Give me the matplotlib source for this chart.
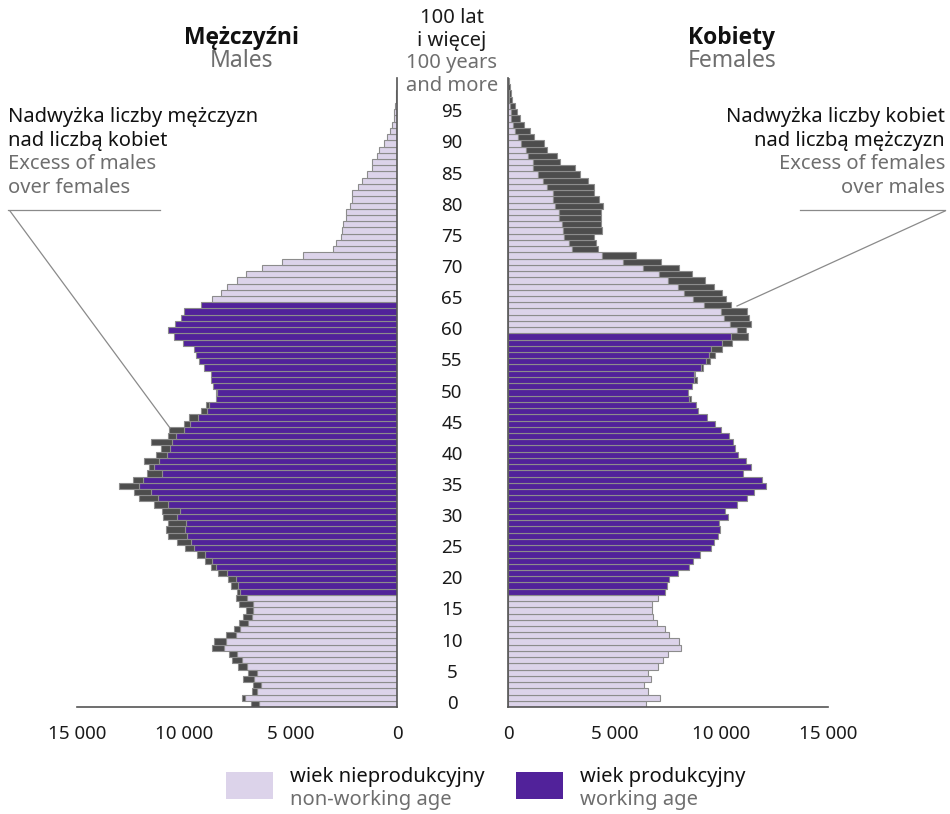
import numpy as np
import matplotlib
matplotlib.use("Agg")
import matplotlib.pyplot as plt
from matplotlib.lines import Line2D
from matplotlib.patches import Rectangle
from matplotlib.transforms import blended_transform_factory

plt.rcParams['font.family'] = ['Noto Sans', 'DejaVu Sans']

# population by single year of age 0..100, in thousands
ages = np.arange(0, 101)
males = [
    6.86, 7.28, 6.78, 6.77, 7.23, 7.00, 7.44, 7.75, 7.88, 8.67,
    8.58, 8.02, 7.63, 7.39, 7.20, 7.07, 7.41, 7.53, 7.50, 7.80,
    7.91, 8.40, 8.72, 8.98, 9.37, 9.95, 10.29, 10.73, 10.82, 10.72,
    10.95, 11.00, 11.40, 12.10, 12.35, 13.04, 12.38, 11.74, 11.63, 11.87,
    11.31, 11.07, 11.53, 10.72, 10.70, 9.98, 9.73, 9.17, 8.95, 8.50,
    8.47, 8.64, 8.72, 8.73, 9.06, 9.29, 9.43, 9.50, 10.04, 10.46,
    10.72, 10.42, 10.12, 9.97, 9.19, 8.69, 8.24, 7.98, 7.52, 7.07,
    6.35, 5.38, 4.40, 2.99, 2.84, 2.63, 2.56, 2.51, 2.37, 2.37,
    2.20, 2.13, 2.13, 1.82, 1.64, 1.40, 1.17, 1.17, 0.94, 0.84,
    0.62, 0.47, 0.34, 0.25, 0.15, 0.12, 0.09, 0.06, 0.03, 0.02,
    0.02]
females = [
    6.48, 7.13, 6.57, 6.36, 6.69, 6.55, 7.02, 7.28, 7.52, 8.09,
    8.01, 7.57, 7.37, 6.97, 6.78, 6.73, 6.73, 7.03, 7.35, 7.46,
    7.57, 7.95, 8.50, 8.65, 9.01, 9.50, 9.64, 9.86, 9.92, 9.88,
    10.29, 10.15, 10.72, 11.18, 11.55, 12.10, 11.89, 11.01, 11.40, 11.17,
    10.78, 10.65, 10.57, 10.38, 9.97, 9.72, 9.35, 8.90, 8.79, 8.59,
    8.46, 8.64, 8.84, 8.76, 9.15, 9.48, 9.70, 10.03, 10.51, 11.26,
    11.14, 11.39, 11.29, 11.18, 10.45, 10.23, 10.03, 9.64, 9.23, 8.64,
    8.02, 7.16, 6.00, 4.21, 4.12, 4.02, 4.40, 4.37, 4.34, 4.34,
    4.45, 4.27, 4.05, 4.02, 3.77, 3.37, 3.12, 2.46, 2.29, 1.82,
    1.67, 1.23, 1.01, 0.75, 0.54, 0.42, 0.33, 0.19, 0.14, 0.08,
    0.06]
males = np.array(males) * 1000
females = np.array(females) * 1000

# working age: men 18-64, women 18-59
male_work = (ages >= 18) & (ages <= 64)
female_work = (ages >= 18) & (ages <= 59)

age_labels = list(range(0, 100, 5))
xticks = [0, 5000, 10000, 15000]
xtick_labels = ['0', '5 000', '10 000', '15 000']

LIGHT = '#dcd3ea'
PURPLE = '#51229a'
EXCESS = '#4d4d4d'
EDGE = '#8c8c8c'
GREY_TXT = '#6e6e6e'
AXIS = '#555555'
FS = 14.5

W, H = 950, 814
fig = plt.figure(figsize=(W / 100, H / 100), dpi=100)


def fx(px):
    return px / W


def fy(py):
    return 1 - py / H


y0, y1 = 707, 78
axL = fig.add_axes([fx(77), fy(y0), fx(397 - 77), (y0 - y1) / H])
axR = fig.add_axes([fx(508), fy(y0), fx(828 - 508), (y0 - y1) / H])

common = np.minimum(males, females)
for ax, vals, work in [(axL, males, male_work), (axR, females, female_work)]:
    colors = [PURPLE if w else LIGHT for w in work]
    ax.barh(ages, common, height=1.0, color=colors, edgecolor=EDGE, linewidth=0.8)
    extra = vals - common
    mask = extra > 0
    ax.barh(ages[mask], extra[mask], left=common[mask], height=1.0,
            color=EXCESS, edgecolor=EDGE, linewidth=0.8)
    ax.set_ylim(-0.5, 100.5)
    ax.set_yticks([])
    ax.set_xticks(xticks)
    ax.set_xticklabels(xtick_labels, fontsize=13.5, color='#1a1a1a')
    ax.tick_params(axis='x', length=0, pad=13)
    for s in ['top', 'left', 'right', 'bottom']:
        ax.spines[s].set_visible(False)
    ax.spines['bottom'].set_visible(True)
    ax.spines['bottom'].set_color(AXIS)
    ax.spines['bottom'].set_linewidth(1.2)
    ax.set_facecolor('none')

axL.set_xlim(15000, 0)
axR.set_xlim(0, 15000)
axL.spines['right'].set_visible(True)
axL.spines['right'].set_color(AXIS)
axL.spines['right'].set_linewidth(1.2)
axR.spines['left'].set_visible(True)
axR.spines['left'].set_color(AXIS)
axR.spines['left'].set_linewidth(1.2)

# age labels in the middle
tr = blended_transform_factory(fig.transFigure, axL.transData)
for a in age_labels:
    fig.text(fx(452), a, str(a), transform=tr, ha='center', va='center',
             fontsize=13.5, color='#1a1a1a')

fig.text(fx(452), fy(18), '100 lat', ha='center', va='center', fontsize=FS, color='#1a1a1a')
fig.text(fx(452), fy(41), 'i więcej', ha='center', va='center', fontsize=FS, color='#1a1a1a')
fig.text(fx(452), fy(63), '100 years', ha='center', va='center', fontsize=FS, color=GREY_TXT)
fig.text(fx(452), fy(86), 'and more', ha='center', va='center', fontsize=FS, color=GREY_TXT)

# headers
bold = ['Open Sans', 'Roboto', 'DejaVu Sans']
fig.text(fx(242), fy(38), 'Mężczyźni', ha='center', va='center', fontsize=16.5,
         fontweight='bold', family=bold, color='#111111')
fig.text(fx(242), fy(61), 'Males', ha='center', va='center', fontsize=16.5, color=GREY_TXT)
fig.text(fx(732), fy(38), 'Kobiety', ha='center', va='center', fontsize=16.5,
         fontweight='bold', family=bold, color='#111111')
fig.text(fx(732), fy(61), 'Females', ha='center', va='center', fontsize=16.5, color=GREY_TXT)

# annotations
left_lines = [('Nadwyżka liczby mężczyzn', '#111111'), ('nad liczbą kobiet', '#111111'),
              ('Excess of males', GREY_TXT), ('over females', GREY_TXT)]
right_lines = [('Nadwyżka liczby kobiet', '#111111'), ('nad liczbą mężczyzn', '#111111'),
               ('Excess of females', GREY_TXT), ('over males', GREY_TXT)]
for i, (t, c) in enumerate(left_lines):
    fig.text(fx(8), fy(117 + i * 23.7), t, ha='left', va='center', fontsize=FS, color=c)
for i, (t, c) in enumerate(right_lines):
    fig.text(fx(945), fy(117 + i * 23.7), t, ha='right', va='center', fontsize=FS, color=c)

lc = '#8a8a8a'
fig.add_artist(Line2D([fx(8), fx(160)], [fy(210), fy(210)], color=lc, lw=0.9))
fig.add_artist(Line2D([fx(10), fx(170)], [fy(211), fy(428)], color=lc, lw=0.9))
fig.add_artist(Line2D([fx(800), fx(945)], [fy(210), fy(210)], color=lc, lw=0.9))
fig.add_artist(Line2D([fx(945), fx(737)], [fy(211), fy(306)], color=lc, lw=0.9))

# legend
fig.add_artist(Rectangle((fx(226), fy(799)), fx(47), 27 / H, transform=fig.transFigure,
                         facecolor=LIGHT, edgecolor='none'))
fig.add_artist(Rectangle((fx(516), fy(799)), fx(47), 27 / H, transform=fig.transFigure,
                         facecolor=PURPLE, edgecolor='none'))
fig.text(fx(290), fy(777), 'wiek nieprodukcyjny', ha='left', va='center', fontsize=FS, color='#111111')
fig.text(fx(290), fy(800), 'non-working age', ha='left', va='center', fontsize=FS, color=GREY_TXT)
fig.text(fx(580), fy(777), 'wiek produkcyjny', ha='left', va='center', fontsize=FS, color='#111111')
fig.text(fx(580), fy(800), 'working age', ha='left', va='center', fontsize=FS, color=GREY_TXT)

fig.savefig('out.png', dpi=100, facecolor='white')
